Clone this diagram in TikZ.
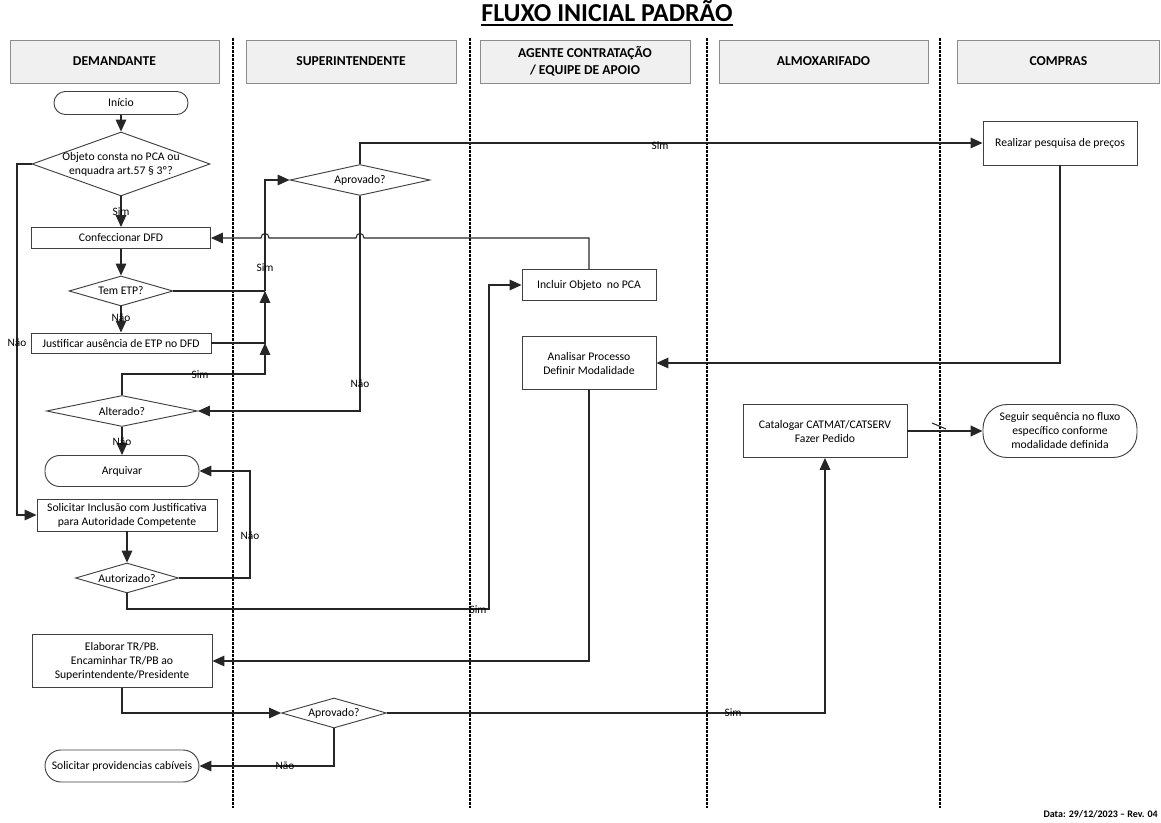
\documentclass[tikz,border=0pt]{standalone}
\usepackage{fontspec}
\setmainfont{Carlito}
\usetikzlibrary{arrows.meta,shapes.geometric}
\begin{document}
\begin{tikzpicture}[x=0.75pt,y=-0.75pt,
  boxbase/.style={draw=black!75, line width=0.7pt, inner sep=1pt, align=center, font=\fontsize{8.75}{10.5}\selectfont},
  proc/.style={boxbase, rectangle},
  term/.style={boxbase, rectangle, rounded corners=#1},
  dec/.style={draw=black!75, line width=0.7pt, diamond, inner sep=0pt},
  dectext/.style={font=\fontsize{8.75}{10.5}\selectfont, align=center, inner sep=0pt},
  hdr/.style={draw=black!45, fill=black!6, line width=0.6pt, minimum height=32.25pt, align=center, font=\fontsize{10.2}{12.75}\selectfont\bfseries},
  lane/.style={draw=black, line width=1pt, dash pattern=on 2.2pt off 0.8pt},
  conn/.style={draw=black!85, line width=0.8pt},
  arr/.style={conn, -{Triangle[length=9pt,width=8pt]}},
  lbl/.style={font=\fontsize{8.5}{10}\selectfont, inner sep=0pt}
]
\useasboundingbox (0,0) rectangle (1161,823);

% title
\node[font=\fontsize{19.4}{22}\selectfont\bfseries, inner sep=0pt, anchor=base] (title) at (607,22) {FLUXO INICIAL PADRÃO};
\draw[line width=1.5pt] ([yshift=-2pt]title.base west) -- ([yshift=-2pt]title.base east);

% lanes
\draw[lane] (233,38) -- (233,808);
\draw[lane] (470,38) -- (470,808);
\draw[lane] (707,38) -- (707,808);
\draw[lane] (940,38) -- (940,808);

% headers
\node[hdr, minimum width=156.75pt] (h1) at (114.5,61.5) {DEMANDANTE};
\node[hdr, minimum width=157.5pt] (h2) at (351,61.5) {SUPERINTENDENTE};
\node[hdr, minimum width=157.5pt] (h3) at (585,61.5) {AGENTE CONTRATAÇÃO\\/ EQUIPE DE APOIO};
\node[hdr, minimum width=156.75pt] (h4) at (823.5,61.5) {ALMOXARIFADO};
\node[hdr, minimum width=151.5pt] (h5) at (1058.5,61.5) {COMPRAS};

% DEMANDANTE
\node[term=8.5pt, minimum width=100.5pt, minimum height=17.25pt] (inicio) at (121,103) {Início};
\node[dec, minimum width=133.5pt, minimum height=48pt, label={[dectext]center:{Objeto consta no PCA ou\\enquadra art.57 § 3º?}}] (objeto) at (121,164) {};
\node[proc, minimum width=134.25pt, minimum height=15.75pt] (confec) at (121,238) {Confeccionar DFD};
\node[dec, minimum width=78pt, minimum height=22.5pt, label={[dectext]center:Tem ETP?}] (temetp) at (121,291) {};
\node[proc, minimum width=135pt, minimum height=15pt] (justif) at (121,343) {Justificar ausência de ETP no DFD};
\node[dec, minimum width=113.25pt, minimum height=23.25pt, label={[dectext]center:Alterado?}] (alterado) at (122,411) {};
\node[term=11pt, minimum width=115.5pt, minimum height=23.25pt] (arquivar) at (122,471) {Arquivar};
\node[proc, minimum width=135pt, minimum height=24pt] (solicinc) at (127,515) {Solicitar Inclusão com Justificativa\\para Autoridade Competente};
\node[dec, minimum width=77.25pt, minimum height=22.5pt, label={[dectext]center:Autorizado?}] (autoriz) at (127,578) {};
\node[proc, minimum width=135pt, minimum height=39.75pt] (elaborar) at (122,661) {Elaborar TR/PB.\\Encaminhar TR/PB ao\\Superintendente/Presidente};
\node[term=12pt, minimum width=115.5pt, minimum height=24pt, inner xsep=0pt] (provid) at (122,766) {Solicitar providencias cabíveis};

% SUPERINTENDENTE
\node[dec, minimum width=105pt, minimum height=23.25pt, label={[dectext]center:Aprovado?}] (aprov1) at (360,180) {};
\node[dec, minimum width=78.75pt, minimum height=22.5pt, label={[dectext]center:Aprovado?}] (aprov2) at (334,713) {};

% AGENTE
\node[proc, minimum width=100.5pt, minimum height=23.25pt] (incluir) at (589,285) {Incluir Objeto\ \ no PCA};
\node[proc, minimum width=100.5pt, minimum height=39.75pt] (analisar) at (589,363) {Analisar Processo\\Definir Modalidade};

% ALMOXARIFADO
\node[proc, minimum width=123pt, minimum height=39.75pt] (catalogar) at (825,431) {Catalogar CATMAT/CATSERV\\Fazer Pedido};

% COMPRAS
\node[proc, minimum width=115.5pt, minimum height=33pt] (realizar) at (1060,143) {Realizar pesquisa de preços};
\node[term=18pt, minimum width=115.5pt, minimum height=39.75pt] (seguir) at (1060,431) {Seguir sequência no fluxo\\específico conforme\\modalidade definida};

% helper coordinates
\coordinate (xL) at (17,343);
\coordinate (j1) at (265,291);
\coordinate (j2) at (265,343);
\coordinate (j3) at (265,374);
\coordinate (cN) at (250,471);
\coordinate (cS) at (489,609);

% connectors
\draw[arr] (inicio.south) -- (objeto.north);
\draw[arr] (objeto.south) -- (confec.north);
\draw[arr] (confec.south) -- (temetp.north);
\draw[arr] (temetp.south) -- (justif.north);
\draw[arr] (objeto.west) -| (xL) |- (solicinc.west);
\draw[conn] (temetp.east) -- (j1);
\draw[arr] (j1) |- (aprov1.west);
\draw[arr] (justif.east) -| (j1);
\draw[arr] (alterado.north) |- (j3) -- (j2);
\draw[arr] (aprov1.north) |- (realizar.west);
\draw[arr] (aprov1.south) |- (alterado.east);
\draw[arr] (incluir.north) |- (364,238) .. controls (364,232) and (356,232) .. (356,238) -- (269,238) .. controls (269,232) and (261,232) .. (261,238) -- (confec.east);
\draw[arr] (solicinc.south) -- (autoriz.north);
\draw[arr] (autoriz.east) -| (cN) -- (arquivar.east);
\draw[arr] (alterado.south) -- (arquivar.north);
\draw[arr] (autoriz.south) |- (cS) |- (incluir.west);
\draw[arr] (realizar.south) |- (analisar.east);
\draw[arr] (analisar.south) |- (elaborar.east);
\draw[arr] (elaborar.south) |- (aprov2.west);
\draw[arr] (aprov2.south) |- (provid.east);
\draw[arr] (aprov2.east) -| (catalogar.south);
\draw[arr, line width=1.5pt] (catalogar.east) -- (seguir.west);
\draw[conn] (932,423) -- (946,429);

% connector labels
\node[lbl] (l1) at (121,212) {Sim};
\node[lbl] (l2) at (121,318) {Não};
\node[lbl] (l3) at (17,343) {Não};
\node[lbl] (l4) at (265,268) {Sim};
\node[lbl] (l5) at (200,375) {Sim};
\node[lbl] (l6) at (360,384) {Não};
\node[lbl] (l7) at (660,146) {Sim};
\node[lbl] (l8) at (122,442) {Não};
\node[lbl] (l9) at (250,536) {Não};
\node[lbl] (l10) at (478,610) {Sim};
\node[lbl] (l11) at (285,766) {Não};
\node[lbl] (l12) at (733,713) {Sim};

% date
\node[font=\fontsize{7.5}{9}\selectfont\bfseries, anchor=base east, inner sep=0pt] (date) at (1158,817) {Data: 29/12/2023 – Rev. 04};
\end{tikzpicture}
\end{document}
